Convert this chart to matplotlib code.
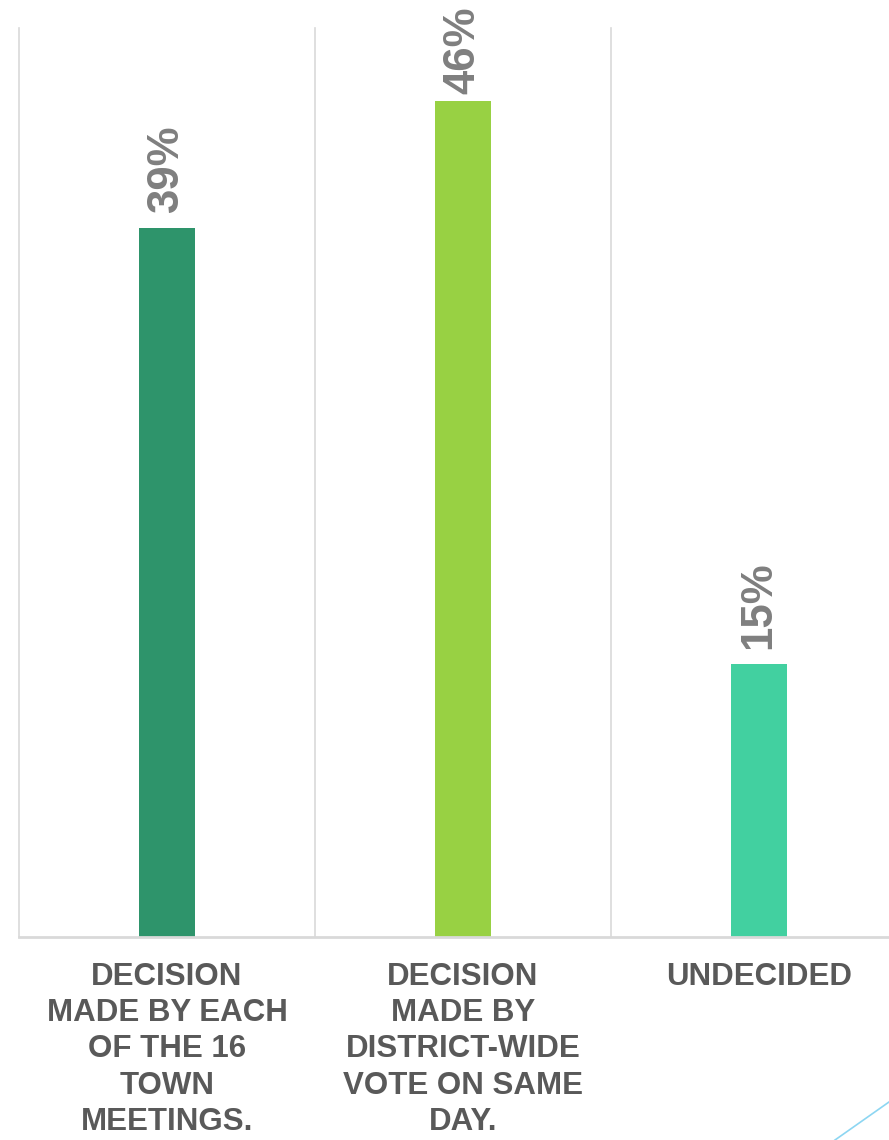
import matplotlib
matplotlib.use("Agg")
import matplotlib.pyplot as plt
from matplotlib.lines import Line2D

categories = [
    "DECISION\nMADE BY EACH\nOF THE 16\nTOWN\nMEETINGS.",
    "DECISION\nMADE BY\nDISTRICT-WIDE\nVOTE ON SAME\nDAY.",
    "UNDECIDED",
]
values = [39, 46, 15]
colors = ["#2E946B", "#98D143", "#42D0A0"]

plt.rcParams['font.family'] = ['Liberation Sans', 'DejaVu Sans']

W, H = 889, 1140
fig = plt.figure(figsize=(W / 100, H / 100), dpi=100)
ax = fig.add_axes([19 / W, (H - 937) / H, 888 / W, (937 - 28) / H])

x = list(range(len(categories)))
bars = ax.bar(x, values, width=0.186, color=colors, zorder=3)
ax.set_xlim(-0.5, len(categories) - 0.5)
ax.set_ylim(0, 50)

for b in [i - 0.5 for i in range(len(categories) + 1)]:
    ax.axvline(b, color="#d9d9d9", lw=1.2, zorder=1, clip_on=False)

for s in ["top", "right", "left"]:
    ax.spines[s].set_visible(False)
ax.spines["bottom"].set_color("#d9d9d9")
ax.spines["bottom"].set_linewidth(2.0)
ax.spines["bottom"].set_zorder(4)

ax.set_yticks([])
ax.set_xticks(x)
ax.set_xticklabels(categories, fontsize=22.5, fontweight="bold", color="#595959",
                   linespacing=1.27)
ax.tick_params(axis="x", length=0, pad=18)

pads = [11, 5, 11]
for rect, v, p in zip(bars.patches, values, pads):
    ax.annotate(f"{v}%", xy=(rect.get_x() + rect.get_width() / 2, rect.get_height()),
                xytext=(0, p), textcoords="offset points", ha="center", va="bottom",
                rotation=90, fontsize=31.5, fontweight="bold", color="#7f7f7f",
                annotation_clip=False)

fig.add_artist(Line2D([835 / W, 889 / W], [0, 38 / H], color="#8dd6f2", lw=1.2,
                      transform=fig.transFigure))

fig.savefig("out.png", dpi=100)
